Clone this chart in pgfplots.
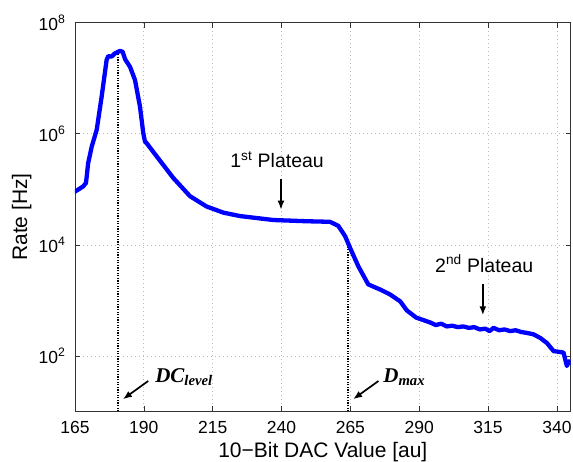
\documentclass[border=0pt]{standalone}
\usepackage{pgfplots}
\pgfplotsset{compat=1.18}
\usetikzlibrary{arrows.meta}
\usepackage{fontspec}
\setmainfont{Liberation Sans}
\newfontfamily\tms{Liberation Serif}

\begin{document}
\begin{tikzpicture}
\begin{axis}[
  scale only axis,
  width=496pt, height=389pt,
  ymode=log,
  xmin=165, xmax=345,
  ymin=10, ymax=1e8,
  xtick={165,190,215,240,265,290,315,340},
  ytick={1e2,1e4,1e6,1e8},
  yticklabels={10\textsuperscript{2},10\textsuperscript{4},10\textsuperscript{6},10\textsuperscript{8}},
  yminorticks=false,
  tick align=inside,
  major tick length=5pt,
  tick style={black!80, line width=0.6pt},
  axis line style={black!80, line width=0.8pt},
  grid=major,
  grid style={gray!55, line width=0.7pt, dash pattern=on 0.8pt off 3.2pt},
  /pgf/number format/assume math mode=true,
  ticklabel style={font=\fontsize{17.5}{20}\selectfont},
  xticklabel style={yshift=-6pt},
  yticklabel style={xshift=-6pt},
  xlabel={10−Bit DAC Value [au]},
  ylabel={Rate [Hz]},
  label style={font=\fontsize{21}{24}\selectfont},
  xlabel style={at={([yshift=-46pt]axis description cs:0.5,0)}, anchor=base},
  ylabel style={at={([xshift=-40pt]axis description cs:0,0.5)}, anchor=south},
]
% dotted marker lines
\addplot[black, line width=1.8pt, dash pattern=on 1.2pt off 1.4pt] coordinates {(180.5,10) (180.5,2.9e7)};
\addplot[black, line width=1.8pt, dash pattern=on 1.2pt off 1.4pt] coordinates {(264,10) (264,1.05e4)};

% measured rate
\addplot[color={rgb,255:red,0;green,0;blue,255}, line width=4.3pt, line join=round, line cap=round] coordinates {
(165.0,9.1e4) (166.2,9.9e4) (168.0,1.13e5) (169.0,1.30e5) (169.8,2.97e5)
(171.1,5.9e5) (172.9,1.18e6) (174.7,4.7e6) (176.5,2.14e7) (177.1,2.5e7)
(178.3,2.45e7) (179.5,2.8e7) (181.3,3.1e7) (182.3,3.0e7) (183.2,2.2e7)
(185.0,1.6e7) (186.8,9.3e6) (188.6,3.1e6) (189.8,1.03e6) (190.4,7.3e5)
(191.0,6.8e5) (194.7,3.9e5) (200.7,1.6e5) (206.8,7.5e4) (212.8,4.9e4)
(218.9,3.8e4) (224.9,3.3e4) (237.0,2.8e4) (249.2,2.66e4) (257.6,2.6e4)
(260.6,2.2e4) (263.1,1.43e4) (264.9,8.8e3) (267.9,4.1e3) (271.5,1.94e3)
(275.8,1.57e3) (279.4,1.28e3) (283.1,9.6e2) (285.5,6.6e2) (288.9,4.9e2)
(294.0,4.0e2) (296,3.6e2) (298,3.8e2) (300,3.4e2) (302,3.5e2)
(304,3.3e2) (306,3.4e2) (308,3.2e2) (310,3.3e2) (312,3.0e2)
(314,3.1e2) (315.5,2.8e2) (317,3.2e2) (319,2.9e2) (321,3.0e2)
(323,2.8e2) (325,2.9e2) (327,2.7e2) (329,2.6e2) (331.5,2.45e2)
(334,2.1e2) (336.4,1.7e2) (338.8,1.22e2) (340,1.2e2) (342.4,1.15e2)
(343.6,6.6e1) (344.4,8.0e1) (345,7.5e1)
};

% annotations
\node[anchor=base, font=\fontsize{19.5}{22}\selectfont] at (axis cs:238.4,2.45e5) {1\textsuperscript{st} Plateau};
\draw[-{Latex[length=9pt,width=7pt]}, line width=1.7pt] (axis cs:239.8,1.53e5) -- (axis cs:239.8,4.3e4);
\node[anchor=base, font=\fontsize{19.5}{22}\selectfont] at (axis cs:313.6,3.22e3) {2\textsuperscript{nd} Plateau};
\draw[-{Latex[length=9pt,width=7pt]}, line width=1.7pt] (axis cs:313.1,1.94e3) -- (axis cs:313.1,5.4e2);

\node[anchor=base west, inner sep=0pt, font=\tms\bfseries\itshape\fontsize{21}{24}\selectfont] at (axis cs:194.1,33.6) {DC\textsubscript{level}};
\draw[-{Latex[length=9pt,width=7pt]}, line width=1.7pt] (axis cs:191.6,35.4) -- (axis cs:182.4,16.6);
\node[anchor=base west, inner sep=0pt, font=\tms\bfseries\itshape\fontsize{21}{24}\selectfont] at (axis cs:276.9,33.6) {D\textsubscript{max}};
\draw[-{Latex[length=9pt,width=7pt]}, line width=1.7pt] (axis cs:275.2,35.4) -- (axis cs:266.0,16.6);
\end{axis}
\pgfresetboundingbox
\path ([xshift=-75pt,yshift=-50.3pt]current axis.south west) rectangle ([xshift=2.3pt,yshift=22.7pt]current axis.north east);
\end{tikzpicture}
\end{document}
